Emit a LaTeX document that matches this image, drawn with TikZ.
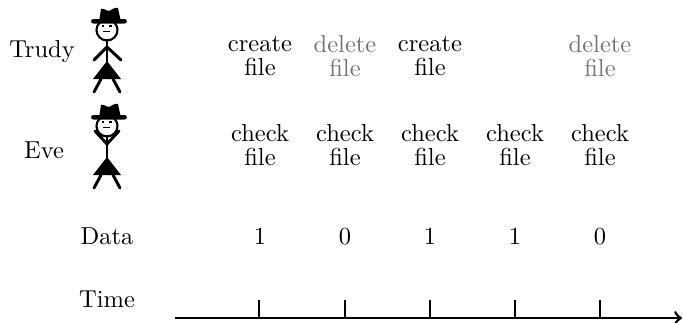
\documentclass[tikz,border=0pt]{standalone}
\begin{document}
\begin{tikzpicture}[x=0.408pt, y=-0.408pt,
  label/.style={inner sep=0pt, font=\fontsize{10}{9.8}\selectfont},
  act/.style={label, align=center},
  undo/.style={act, text=black!55},
  limb/.style={line width=1.2pt, line cap=round},
  axisline/.style={line width=1.1pt},
  tickline/.style={line width=1.1pt},
  pics/agent/.style={code={
    % head and face
    \draw[line width=0.85pt, fill=white] (0,0) circle[radius=10.5];
    \draw[line width=0.8pt] (-5,-4) -- (-2.5,-4) (2.5,-4) -- (5,-4) (-4,1.5) -- (3,1.5);
    % hat: crown and brim
    \fill (-8,-8) -- (-6,-21) .. controls (-3,-22) and (0,-19) .. (2,-19)
          .. controls (4,-20) and (8,-23) .. (11,-22) -- (14,-8) -- cycle;
    \fill[rounded corners=1pt] (-16,-11) rectangle (20,-6.5);
    % body, skirt, legs
    \draw[limb] (0,10) -- (0,32);
    \fill (0,31) -- (-14,49) -- (14,49) -- cycle;
    \draw[limb] (-6,49) -- (-13,62) (6,49) -- (13,62);
    \draw[limb] #1;
  }}
]
\useasboundingbox (0,0) rectangle (683,322);

% the two actors
\node[label] (trudy) at (42,52) {Trudy};
\pic at (107,30) {agent={(-13,30) -- (0,17) -- (14,30)}};
\node[label] (eve) at (44,150) {Eve};
\pic at (107,126) {agent={(-12,5) -- (0,18) -- (12,5)}};

% Trudy's actions
\node[act]  (t1) at (260,56) {create\\file};
\node[undo] (t2) at (345,56) {delete\\file};
\node[act]  (t3) at (430,56) {create\\file};
\node[undo] (t5) at (600,56) {delete\\file};

% Eve's checks
\foreach \i/\x in {1/260,2/345,3/430,4/515,5/600}
  \node[act] (e\i) at (\x,145) {check\\file};

% transmitted bits
\node[label, anchor=base] (data) at (107,244) {Data};
\foreach \i/\x/\b in {1/260/1,2/345/0,3/430/1,4/515/1,5/600/0}
  \node[label, anchor=base] (d\i) at (\x,244) {\b};

% time axis
\node[label, anchor=base] (time) at (107,307) {Time};
\coordinate (a0) at (175,318);
\coordinate (a1) at (682,318);
\draw[axisline, ->] (a0) -- (a1);
\foreach \i/\x in {1/259,2/345,3/430,4/515,5/600} {
  \coordinate (k\i) at (\x,300);
  \coordinate (b\i) at (\x,318);
  \draw[tickline] (k\i) -- (b\i);
}
\end{tikzpicture}
\end{document}
